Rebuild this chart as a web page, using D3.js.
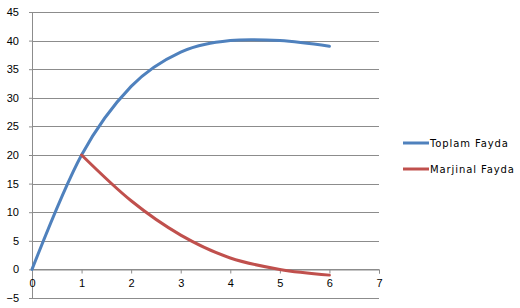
<!DOCTYPE html>
<html>
<head>
<meta charset="utf-8">
<script src="https://cdn.jsdelivr.net/npm/d3@7"></script>
<style>
  body { margin: 0; background: #fff; }
  .tick text { font-family: "Liberation Sans", Arial, sans-serif; font-size: 11px; fill: #000; }
  .legend text { font-family: "DejaVu Sans", Verdana, sans-serif; font-size: 10px; letter-spacing: 0.9px; fill: #000; }
</style>
</head>
<body>
<div id="chart-area"><svg></svg></div>
<script>
const chartSize = { width: 520, height: 308 };
const margin = { left: 32, right: 141, top: 12, bottom: 10 };

const width = chartSize.width - margin.left - margin.right;
const height = chartSize.height - margin.top - margin.bottom;

const xValues = [0, 1, 2, 3, 4, 5, 6];
const toplamFayda = [0, 20, 32, 38, 40, 40, 39];
const marjinalX = [1, 2, 3, 4, 5, 6];
const marjinalFayda = [20, 12, 6, 2, 0, -1];
const yTicks = [-5, 0, 5, 10, 15, 20, 25, 30, 35, 40, 45];
const xTicks = [0, 1, 2, 3, 4, 5, 6, 7];

const seriesList = [
  { name: "Toplam Fayda", color: "#4F81BD", points: xValues.map((x, i) => ({ x, y: toplamFayda[i] })) },
  { name: "Marjinal Fayda", color: "#C0504D", points: marjinalX.map((x, i) => ({ x, y: marjinalFayda[i] })) }
];

const svg = d3.select("#chart-area svg")
  .attr("width", chartSize.width)
  .attr("height", chartSize.height);

const x = d3.scaleLinear().domain([0, 7]).range([0, width]);
const y = d3.scaleLinear().domain([-5, 45]).range([height, 0]);

const plot = svg.append("g")
  .attr("transform", `translate(${margin.left},${margin.top})`);

// grid lines
plot.append("g")
  .selectAll("line")
  .data(yTicks)
  .join("line")
  .attr("x1", 0)
  .attr("x2", width)
  .attr("y1", d => Math.round(y(d)) + 0.5)
  .attr("y2", d => Math.round(y(d)) + 0.5)
  .attr("stroke", "#8c8c8c");

const yAxis = d3.axisLeft(y).tickValues(yTicks).tickSize(3).tickPadding(10);
plot.append("g")
  .attr("class", "y-axis")
  .call(yAxis)
  .call(g => g.select(".domain").attr("stroke", "#8c8c8c"))
  .call(g => g.selectAll(".tick line").attr("stroke", "#8c8c8c"));

const xAxis = d3.axisBottom(x).tickValues(xTicks).tickFormat(d3.format("d")).tickSize(4).tickPadding(6);
plot.append("g")
  .attr("class", "x-axis")
  .attr("transform", `translate(0,${Math.round(y(0)) + 0.5})`)
  .call(xAxis)
  .call(g => g.select(".domain").attr("stroke", "#8c8c8c"))
  .call(g => g.selectAll(".tick line").attr("stroke", "#8c8c8c"));

const line = d3.line()
  .x(p => x(p.x))
  .y(p => y(p.y))
  .curve(d3.curveCardinal.tension(0));

plot.selectAll(".series")
  .data(seriesList)
  .join("path")
  .attr("class", "series")
  .attr("fill", "none")
  .attr("stroke", s => s.color)
  .attr("stroke-width", 3)
  .attr("stroke-linecap", "round")
  .attr("d", s => line(s.points));

// legend
const legend = svg.append("g")
  .attr("class", "legend")
  .attr("transform", "translate(403,143)");

const item = legend.selectAll("g")
  .data(seriesList)
  .join("g")
  .attr("transform", (s, i) => `translate(0,${i * 26})`);

item.append("line")
  .attr("x1", 0).attr("x2", 26)
  .attr("stroke", s => s.color)
  .attr("stroke-width", 3);

item.append("text")
  .attr("x", 27)
  .attr("dy", "0.35em")
  .text(s => s.name);
</script>
</body>
</html>
